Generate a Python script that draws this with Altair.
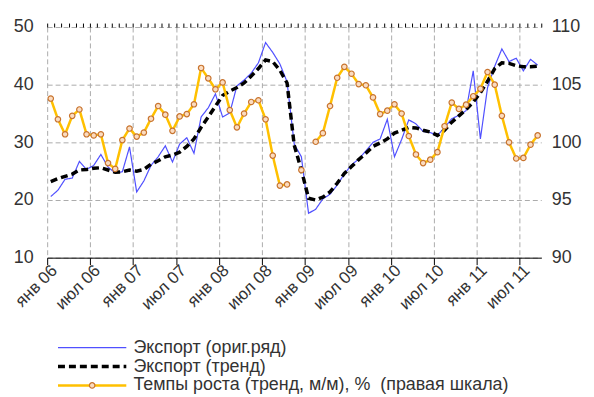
import json
import altair as alt
import pandas as pd

S1 = "Экспорт (ориг.ряд)"
S2 = "Экспорт (тренд)"
S3 = "Темпы роста (тренд, м/м), %\u00a0 (правая шкала)"

# monthly, Jan 2006 .. Sep 2011
export_orig = [
    20.6, 21.7, 23.6, 23.8, 26.7, 25.3, 26.0, 27.9, 25.7, 24.7, 24.9, 29.2,
    21.4, 23.3, 26.0, 27.5, 29.4, 26.6, 29.7, 30.8, 28.1, 34.4, 36.0, 38.4,
    34.4, 35.1, 39.8, 40.8, 42.0, 43.8, 47.3, 45.6, 43.6, 40.5, 29.7, 27.5,
    17.7, 18.4, 20.2, 21.0, 22.6, 24.5, 26.1, 27.1, 28.5, 30.0, 30.6, 34.0,
    27.5, 30.5, 33.9, 33.2, 31.9, 31.7, 31.2, 32.6, 34.1, 34.7, 35.5, 42.4,
    30.6, 39.5, 43.2, 46.2, 44.0, 44.6, 42.4, 44.4, 43.4,
]
export_trend = [
    23.2, 23.7, 24.1, 24.5, 25.2, 25.3, 25.5, 25.6, 25.2, 24.8, 24.9, 25.2,
    25.0, 25.3, 26.2, 26.8, 27.5, 27.8, 28.3, 29.3, 30.6, 32.6, 34.4, 36.3,
    38.1, 38.9, 39.5, 40.3, 41.5, 42.8, 44.3, 44.0, 42.5, 40.3, 29.5, 25.2,
    20.3, 20.0, 20.5, 21.4, 22.9, 24.6, 25.8, 27.0, 28.1, 29.3, 29.9, 30.6,
    31.6, 32.1, 32.6, 32.5, 32.1, 31.8, 31.2, 32.1, 33.5, 34.6, 35.7, 37.0,
    38.6, 40.6, 42.8, 43.8, 43.7, 43.3, 43.1, 43.1, 43.2,
]
growth = [
    103.8, 102.0, 100.7, 102.3, 102.85, 100.7, 100.6, 100.7, 98.2, 97.7, 100.2, 101.2,
    100.5, 100.85, 102.05, 103.15, 102.4, 101.0, 102.25, 102.45, 103.3, 106.45, 105.55, 104.6,
    105.2, 102.8, 101.3, 102.5, 103.5, 103.65, 102.0, 98.85, 96.25, 96.35, None, 97.6,
    None, 100.05, 100.8, 103.15, 105.6, 106.55, 105.95, 105.05, 104.95, 103.9, 102.45, 102.75,
    103.3, 102.5, 100.55, 98.95, 98.2, 98.5, 99.15, 101.4, 103.45, 102.9, 103.27, 104.0,
    104.65, 106.1, 105.0, 102.3, 100.0, 98.6, 98.65, 99.8, 100.6,
]
x_labels = ["янв 06", "июл 06", "янв 07", "июл 07", "янв 08", "июл 08",
            "янв 09", "июл 09", "янв 10", "июл 10", "янв 11", "июл 11"]

n = len(export_orig)
t = [i + 0.5 for i in range(n)]

left_df = pd.DataFrame({"t": t + t, "v": export_orig + export_trend,
                        "s": [S1] * n + [S2] * n})
right_df = pd.DataFrame({"t": t, "v": growth, "s": [S3] * n})

FONT = "Liberation Sans"
TXT = "#333333"
GRID = "#ababab"
SERIES = [S1, S2, S3]

xscale = alt.Scale(domain=[0, n], nice=False, zero=False)

major_axis = alt.Axis(
    values=list(range(0, n - 2, 6)),
    labelExpr=json.dumps(x_labels, ensure_ascii=False) + "[round(datum.value/6)]",
    labelAngle=-45, labelAlign="right", labelBaseline="middle",
    labelFontSize=17, labelPadding=3, labelOffset=7, labelOverlap=False,
    labelFlush=False, tickSize=7, tickColor="black", domainColor="black",
    domainWidth=1, grid=True, gridDash=[5, 3], gridColor=GRID, title=None,
)
minor_axis = alt.Axis(
    values=list(range(0, n + 1)), labels=False, tickSize=4, tickColor="black",
    domain=False, grid=False, title=None,
)

legend = alt.Legend(
    title=None, orient="none", legendX=8.75, legendY=313, padding=0,
    symbolType="stroke", symbolSize=4720, labelFontSize=18, labelOffset=5,
    clipHeight=19, rowPadding=0, labelColor=TXT, labelFont=FONT, labelLimit=600,
)
color = alt.Color("s:N", scale=alt.Scale(domain=SERIES,
                                         range=["#5050ff", "#000000", "#ffc000"]),
                  legend=legend)
dash = alt.StrokeDash("s:N", scale=alt.Scale(type="ordinal", domain=SERIES,
                                             range=[[1, 0], [7, 4], [1, 0]]),
                      legend=legend)
width = alt.StrokeWidth("s:N", scale=alt.Scale(type="ordinal", domain=SERIES,
                                               range=[1.2, 3.5, 2.5]),
                        legend=legend)

left = alt.Chart(left_df).mark_line().encode(
    x=alt.X("t:Q", scale=xscale, axis=major_axis),
    y=alt.Y("v:Q", scale=alt.Scale(domain=[10, 50], nice=False, zero=False),
            axis=alt.Axis(values=[10, 20, 30, 40, 50], grid=True, gridDash=[5, 3],
                          gridColor=GRID, domain=False, ticks=False, labelFontSize=18,
                          labelPadding=14, labelFlush=False, title=None)),
    color=color, strokeDash=dash, strokeWidth=width,
)

ry = alt.Y("v:Q", scale=alt.Scale(domain=[90, 110], nice=False, zero=False),
           axis=alt.Axis(orient="right", values=[90, 95, 100, 105, 110], grid=False,
                         domain=False, ticks=False, labelFontSize=18, labelPadding=10,
                         labelFlush=False, title=None))

r_line = alt.Chart(right_df).mark_line(invalid="break-paths-filter-domains").encode(
    x=alt.X("t:Q", scale=xscale, axis=minor_axis),
    y=ry,
    color=color, strokeDash=dash, strokeWidth=width,
)
marker_legend = alt.Legend(
    title=None, orient="none", legendX=41.75, legendY=357, padding=0,
    symbolType="circle", symbolSize=30, symbolStrokeColor="#c8742f",
    symbolStrokeWidth=1.2, symbolOpacity=1, labelExpr="''", labelFontSize=1,
    zindex=5,
)
r_pts = alt.Chart(right_df).mark_point(shape="circle", filled=True,
                                       stroke="#c8742f", strokeWidth=1.2, size=30,
                                       opacity=1).encode(
    x=alt.X("t:Q", scale=xscale, axis=minor_axis),
    y=ry,
    fill=alt.Fill("s:N", scale=alt.Scale(domain=[S3], range=["#fbdcc0"]),
                  legend=marker_legend),
)

right = alt.layer(r_line, r_pts)

chart = alt.layer(left, right).resolve_scale(y="independent").resolve_axis(
    x="independent").properties(
    width=497, height=232,
    autosize=alt.AutoSizeParams(type="none"),
    padding={"left": 39.4, "top": 18, "right": 45, "bottom": 138},
).configure_view(stroke=None).configure_axis(
    labelFont=FONT, labelColor=TXT
)

chart.save("out.html", embed_options={"renderer": "svg", "actions": False})
